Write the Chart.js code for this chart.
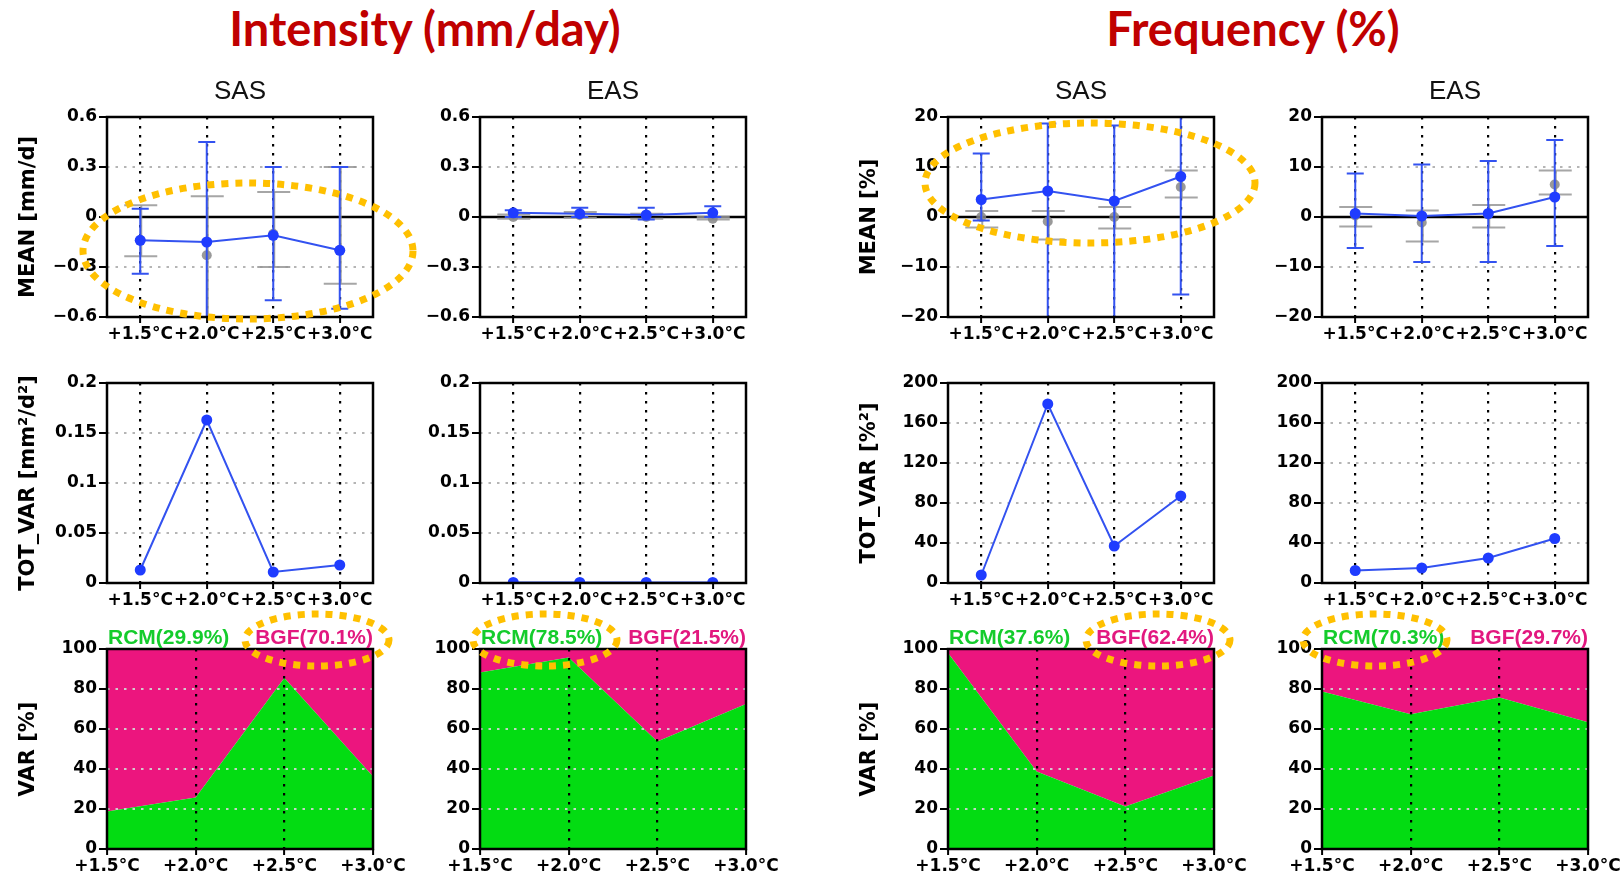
<!DOCTYPE html>
<html><head><meta charset="utf-8">
<script src="https://cdn.jsdelivr.net/npm/chart.js@4.4.0/dist/chart.umd.min.js"></script>
<style>
html,body{margin:0;padding:0;background:#fff;width:1623px;height:877px;overflow:hidden;position:relative;}
.title{position:absolute;font-family:Lato,'Open Sans',sans-serif;font-weight:bold;font-size:47px;color:#C00000;line-height:47px;white-space:nowrap;transform:translateX(-50%);top:5px;}
#overlay{position:absolute;left:0;top:0;pointer-events:none;z-index:10}
</style></head><body>
<div class="title" style="left:425px">Intensity (mm/day)</div>
<div class="title" style="left:1253px">Frequency (%)</div>
<canvas id="overlay" width="1623" height="877"></canvas>
<script>
// ---------------- DATA ----------------
const categories = ['+1.5°C', '+2.0°C', '+2.5°C', '+3.0°C'];
const regions = ['SAS', 'EAS', 'SAS', 'EAS'];

// Row 1: MEAN change (blue = mean with spread, grey = reference)
const intSasMean     = [-0.14, -0.15, -0.11, -0.20];
const intSasLow      = [-0.34, -0.70, -0.50, -0.55];
const intSasHigh     = [0.05, 0.45, 0.30, 0.30];
const intSasGrey     = [-0.14, -0.23, -0.10, -0.20];
const intSasGreyLow  = [-0.235, -0.70, -0.30, -0.40];
const intSasGreyHigh = [0.07, 0.125, 0.15, 0.30];

const intEasMean     = [0.025, 0.02, 0.012, 0.025];
const intEasLow      = [0.0, 0.0, -0.015, 0.0];
const intEasHigh     = [0.04, 0.055, 0.055, 0.065];
const intEasGrey     = [0.0, 0.01, 0.0, -0.01];
const intEasGreyLow  = [-0.01, -0.005, -0.01, -0.015];
const intEasGreyHigh = [0.015, 0.03, 0.02, 0.0];

const frqSasMean     = [3.5, 5.2, 3.2, 8.1];
const frqSasLow      = [-0.7, -25, -25, -15.5];
const frqSasHigh     = [12.7, 18.7, 18.3, 25];
const frqSasGrey     = [0.0, -0.9, 0.0, 6.0];
const frqSasGreyLow  = [-2.1, -4.5, -2.3, 3.9];
const frqSasGreyHigh = [1.2, 1.2, 2.0, 9.3];

const frqEasMean     = [0.7, 0.2, 0.7, 4.0];
const frqEasLow      = [-6.2, -9.0, -9.0, -5.8];
const frqEasHigh     = [8.7, 10.5, 11.2, 15.4];
const frqEasGrey     = [0.3, -1.1, 0.5, 6.5];
const frqEasGreyLow  = [-1.9, -4.9, -2.1, 4.5];
const frqEasGreyHigh = [2.0, 1.3, 2.4, 9.3];

// Row 2: TOT_VAR
const intSasTot = [0.013, 0.163, 0.011, 0.018];
const intEasTot = [0.0005, 0.0005, 0.0005, 0.0005];
const frqSasTot = [8, 179, 37, 87];
const frqEasTot = [12.5, 15, 25, 44.5];

// Row 3: VAR fraction (RCM share / BGF share, %)
const intSasRcm = [18.7, 25.7, 85.5, 36.2];
const intSasBgf = [81.3, 74.3, 14.5, 63.8];
const intEasRcm = [88.3, 95.8, 53.8, 72.5];
const intEasBgf = [11.7, 4.2, 46.2, 27.5];
const frqSasRcm = [98.0, 38.7, 21.2, 36.7];
const frqSasBgf = [2.0, 61.3, 78.8, 63.3];
const frqEasRcm = [78.8, 67.4, 75.8, 63.4];
const frqEasBgf = [21.2, 32.6, 24.2, 36.6];

// Overall shares shown above the VAR panels
const rcmShare = [29.9, 78.5, 37.6, 70.3];
const bgfShare = [70.1, 21.5, 62.4, 29.7];

// ---------------- STYLE / LAYOUT ----------------
const colLeft = [107, 480, 948, 1322];
const rowTop = [117, 383, 649];
const LINE = '#3352f0', DOT = '#1f3cff', GREY = 'rgba(150,150,150,0.85)';
const GREEN = '#03dc12', PINK = '#ec157e';
const TXTGREEN = '#14cc2c', TXTPINK = '#e2187f';
const TR = 'rgba(0,0,0,0)';

function fmt(v) {
  const r = Math.round(v * 1000) / 1000;
  return (r < 0 ? '\u2212' : '') + String(Math.abs(r));
}

function panelPlugin(p) {
  return {
    id: 'panel_' + p.row + '_' + p.col,
    beforeDatasetsDraw(chart) {
      if (p.kind !== 'mean') return;
      const { ctx, chartArea: a, scales: { x, y } } = chart;
      ctx.save();
      ctx.beginPath(); ctx.rect(a.left, a.top, a.right - a.left, a.bottom - a.top); ctx.clip();
      const y0 = y.getPixelForValue(0);
      ctx.strokeStyle = '#000'; ctx.lineWidth = 2.5; ctx.setLineDash([]);
      ctx.beginPath(); ctx.moveTo(a.left, y0); ctx.lineTo(a.right, y0); ctx.stroke();
      for (let i = 0; i < categories.length; i++) {
        const px = x.getPixelForValue(i);
        ctx.strokeStyle = GREY; ctx.lineWidth = 2;
        const gl = y.getPixelForValue(p.greyLow[i]), gh = y.getPixelForValue(p.greyHigh[i]);
        ctx.beginPath(); ctx.moveTo(px + 1, gl); ctx.lineTo(px + 1, gh); ctx.stroke();
        ctx.beginPath(); ctx.moveTo(px - 16, gl); ctx.lineTo(px + 17, gl); ctx.moveTo(px - 16, gh); ctx.lineTo(px + 17, gh); ctx.stroke();
        ctx.fillStyle = 'rgba(135,135,135,0.85)';
        ctx.beginPath(); ctx.arc(px, y.getPixelForValue(p.grey[i]), 5, 0, Math.PI * 2); ctx.fill();
      }
      for (let i = 0; i < categories.length; i++) {
        const px = x.getPixelForValue(i);
        ctx.strokeStyle = LINE; ctx.lineWidth = 2;
        const bl = y.getPixelForValue(p.low[i]), bh = y.getPixelForValue(p.high[i]);
        ctx.beginPath(); ctx.moveTo(px, bl); ctx.lineTo(px, bh); ctx.stroke();
        ctx.beginPath(); ctx.moveTo(px - 8.5, bl); ctx.lineTo(px + 8.5, bl); ctx.moveTo(px - 8.5, bh); ctx.lineTo(px + 8.5, bh); ctx.stroke();
      }
      ctx.restore();
    },
    afterDraw(chart) {
      const { ctx, chartArea: a } = chart;
      ctx.save();
      ctx.strokeStyle = '#000'; ctx.lineWidth = 2.5; ctx.setLineDash([]);
      ctx.strokeRect(a.left, a.top, a.right - a.left, a.bottom - a.top);
      if (p.header) {
        ctx.fillStyle = '#111'; ctx.font = "26px 'Liberation Sans'";
        ctx.textAlign = 'center'; ctx.textBaseline = 'middle';
        ctx.fillText(p.header, (a.left + a.right) / 2, a.top - 25);
      }
      if (p.kind === 'var') {
        ctx.font = "bold 21px 'Liberation Sans'"; ctx.textBaseline = 'middle';
        ctx.textAlign = 'left'; ctx.fillStyle = TXTGREEN;
        ctx.fillText('RCM(' + rcmShare[p.col].toFixed(1) + '%)', a.left + 1, a.top - 11);
        ctx.textAlign = 'right'; ctx.fillStyle = TXTPINK;
        ctx.fillText('BGF(' + bgfShare[p.col].toFixed(1) + '%)', a.right, a.top - 11);
      }
      ctx.restore();
    }
  };
}

function makePanel(p) {
  const cv = document.createElement('canvas');
  cv.width = 413; cv.height = 315;
  cv.style.cssText = `position:absolute;left:${colLeft[p.col] - 107}px;top:${rowTop[p.row] - 70}px;width:413px;height:315px;`;
  document.body.appendChild(cv);
  const isVar = p.kind === 'var';
  const datasets = [];
  if (isVar) {
    datasets.push({ data: p.rcm, fill: 'origin', backgroundColor: GREEN, borderWidth: 0, pointRadius: 0, tension: 0 });
    datasets.push({ data: p.bgf, fill: '-1', backgroundColor: PINK, borderWidth: 0, pointRadius: 0, tension: 0 });
  } else {
    datasets.push({ data: p.values, borderColor: LINE, borderWidth: 2, pointRadius: 5.5,
      pointBackgroundColor: DOT, pointBorderWidth: 0, tension: 0, fill: false });
  }
  const near = (a, b) => Math.abs(a - b) < 1e-9;
  const tickFont = { family: "'DejaVu Sans'", size: 17, weight: 'bold', lineHeight: 1.2 };
  new Chart(cv, {
    type: 'line',
    data: { labels: categories, datasets },
    options: {
      responsive: false, animation: false, devicePixelRatio: 1,
      layout: { padding: { left: 0, top: 70, right: 40, bottom: 0 } },
      plugins: { legend: { display: false }, tooltip: { enabled: false } },
      scales: {
        x: {
          offset: !isVar,
          border: { display: false, dash: [2.5, 6.5] },
          grid: {
            z: isVar ? 1 : -1,
            color: (c) => (isVar && (c.index === 0 || c.index === categories.length - 1)) ? TR : '#000',
            lineWidth: 2.2, tickLength: 6, tickColor: '#000', tickWidth: 2, tickBorderDash: []
          },
          ticks: { autoSkip: false, maxRotation: 0, minRotation: 0, padding: 1, color: '#000', font: tickFont },
          afterFit: (s) => { s.height = 45; }
        },
        y: {
          min: p.min, max: p.max, stacked: isVar,
          border: { display: false, dash: [2.5, 6] },
          grid: {
            z: isVar ? 1 : -1,
            color: (c) => {
              const v = c.tick ? c.tick.value : 0;
              if (near(v, p.min) || near(v, p.max)) return TR;
              if (p.kind === 'mean' && near(v, 0)) return TR;
              return isVar ? 'rgba(210,210,210,0.95)' : '#b5b5b5';
            },
            lineWidth: 2, tickLength: 8, tickColor: '#000', tickWidth: 2, tickBorderDash: []
          },
          ticks: { stepSize: p.step, padding: 2, color: '#000', callback: (v) => fmt(v), font: tickFont },
          title: { display: !!p.ytitle, text: p.ytitle || '', color: '#000',
            font: { family: "'DejaVu Sans'", size: 21, weight: 'bold', lineHeight: 1.2 },
            padding: { top: 16, bottom: 0 } },
          afterFit: (s) => { s.width = 107; }
        }
      }
    },
    plugins: [panelPlugin(p)]
  });
}

const panels = [
  { row: 0, col: 0, kind: 'mean', header: regions[0], ytitle: 'MEAN [mm/d]', min: -0.6, max: 0.6, step: 0.3,
    values: intSasMean, low: intSasLow, high: intSasHigh, grey: intSasGrey, greyLow: intSasGreyLow, greyHigh: intSasGreyHigh },
  { row: 0, col: 1, kind: 'mean', header: regions[1], min: -0.6, max: 0.6, step: 0.3,
    values: intEasMean, low: intEasLow, high: intEasHigh, grey: intEasGrey, greyLow: intEasGreyLow, greyHigh: intEasGreyHigh },
  { row: 0, col: 2, kind: 'mean', header: regions[2], ytitle: 'MEAN [%]', min: -20, max: 20, step: 10,
    values: frqSasMean, low: frqSasLow, high: frqSasHigh, grey: frqSasGrey, greyLow: frqSasGreyLow, greyHigh: frqSasGreyHigh },
  { row: 0, col: 3, kind: 'mean', header: regions[3], min: -20, max: 20, step: 10,
    values: frqEasMean, low: frqEasLow, high: frqEasHigh, grey: frqEasGrey, greyLow: frqEasGreyLow, greyHigh: frqEasGreyHigh },
  { row: 1, col: 0, kind: 'tot', ytitle: 'TOT_VAR [mm²/d²]', min: 0, max: 0.2, step: 0.05, values: intSasTot },
  { row: 1, col: 1, kind: 'tot', min: 0, max: 0.2, step: 0.05, values: intEasTot },
  { row: 1, col: 2, kind: 'tot', ytitle: 'TOT_VAR [%²]', min: 0, max: 200, step: 40, values: frqSasTot },
  { row: 1, col: 3, kind: 'tot', min: 0, max: 200, step: 40, values: frqEasTot },
  { row: 2, col: 0, kind: 'var', ytitle: 'VAR [%]', min: 0, max: 100, step: 20, rcm: intSasRcm, bgf: intSasBgf },
  { row: 2, col: 1, kind: 'var', min: 0, max: 100, step: 20, rcm: intEasRcm, bgf: intEasBgf },
  { row: 2, col: 2, kind: 'var', ytitle: 'VAR [%]', min: 0, max: 100, step: 20, rcm: frqSasRcm, bgf: frqSasBgf },
  { row: 2, col: 3, kind: 'var', min: 0, max: 100, step: 20, rcm: frqEasRcm, bgf: frqEasBgf }
];
panels.forEach(makePanel);

// Highlight ellipses (annotation overlay)
const highlights = [
  { cx: 248, cy: 251, rx: 165, ry: 68 },
  { cx: 1090, cy: 183, rx: 165, ry: 60 },
  { cx: 317, cy: 640, rx: 72, ry: 26 },
  { cx: 545, cy: 640, rx: 72, ry: 26 },
  { cx: 1158, cy: 640, rx: 72, ry: 26 },
  { cx: 1375, cy: 640, rx: 72, ry: 26 }
];
const oc = document.getElementById('overlay').getContext('2d');
oc.strokeStyle = '#ffc000'; oc.lineWidth = 7; oc.setLineDash([7, 7]);
highlights.forEach(h => { oc.beginPath(); oc.ellipse(h.cx, h.cy, h.rx, h.ry, 0, 0, Math.PI * 2); oc.stroke(); });
</script>
</body></html>
